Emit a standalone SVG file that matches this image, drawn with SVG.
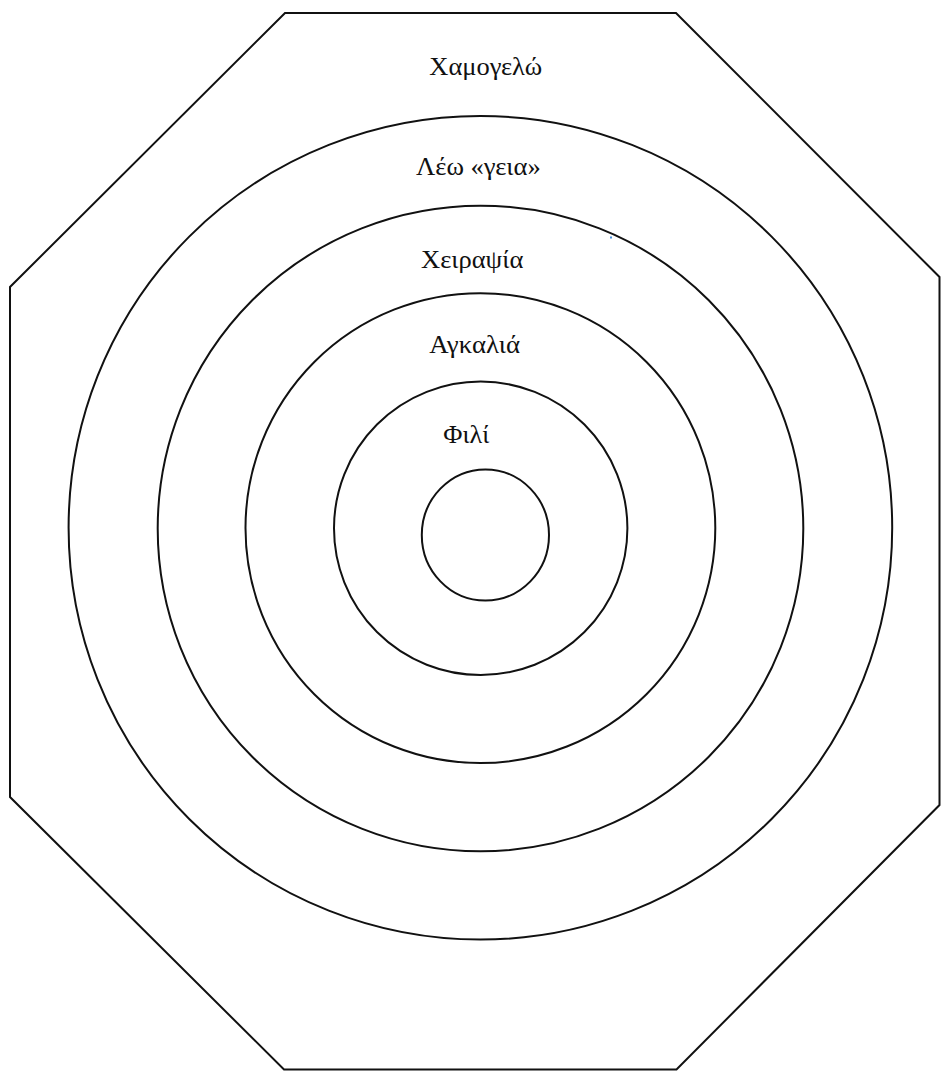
<svg xmlns="http://www.w3.org/2000/svg" width="941" height="1071" viewBox="0 0 941 1071">
<style>
.ln{fill:none;stroke:#111;stroke-width:2}
.lbl{font-family:"Liberation Serif","Times New Roman",serif;font-size:25px;fill:#111}
</style>
<rect width="941" height="1071" fill="#fff"/>
<g id="octagon">
<polygon class="ln" points="285,13 676,13 939.5,277 939.5,805 676.5,1069.5 284,1069.5 10,797 10,287"/>
</g>
<g id="rings">
<circle id="ring5" class="ln" cx="480.4" cy="527.8" r="411.8"/>
<circle id="ring4" class="ln" cx="480.5" cy="528.5" r="322.8"/>
<circle id="ring3" class="ln" cx="480.4" cy="528.1" r="234.9"/>
<circle id="ring2" class="ln" cx="480.7" cy="528.3" r="146.7"/>
<ellipse id="ring1" class="ln" cx="485.4" cy="535" rx="63.6" ry="65.6"/>
</g>
<g id="labels">
<text id="t1" class="lbl" x="429.3" y="75" textLength="113" lengthAdjust="spacingAndGlyphs">Χαμογελώ</text>
<text id="t2" class="lbl" x="416" y="175" textLength="124.7" lengthAdjust="spacingAndGlyphs">Λέω «γεια»</text>
<text id="t3" class="lbl" x="421" y="268.3" textLength="102.3" lengthAdjust="spacingAndGlyphs">Χειραψία</text>
<text id="t4" class="lbl" x="429.3" y="352.7" textLength="90.7" lengthAdjust="spacingAndGlyphs">Αγκαλιά</text>
<text id="t5" class="lbl" x="443.3" y="443.3" textLength="46" lengthAdjust="spacingAndGlyphs">Φιλί</text>
</g>
<rect x="610" y="236.5" width="2" height="2" fill="#4a90d9"/>
</svg>
